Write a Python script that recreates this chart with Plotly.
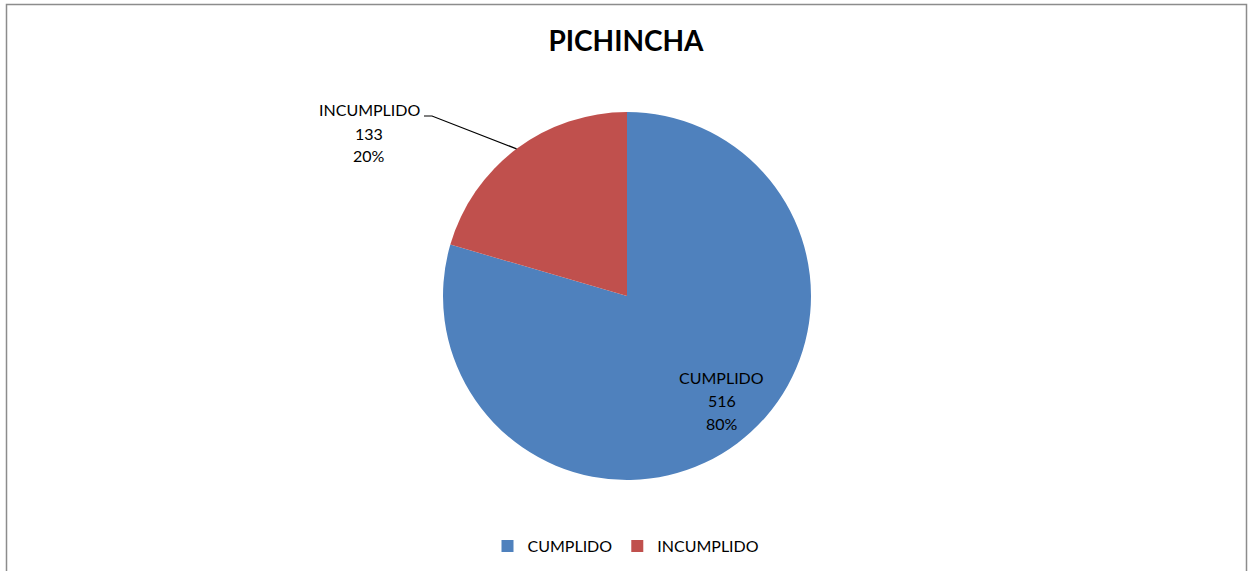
import math
import plotly.graph_objects as go

# Data
categories = ["CUMPLIDO", "INCUMPLIDO"]
values = [516, 133]
colors = ["#4F81BD", "#C0504D"]
title_text = "PICHINCHA"

W, H = 1252, 571
FONT = "Lato, 'Open Sans', sans-serif"

# Pie geometry in pixels
cx, cy, R = 627, 296, 184
LINE_GAP = 23  # spacing between label lines, px


def px_x(x):
    return x / W


def px_y(y):
    return 1 - y / H


fig = go.Figure()
fig.add_trace(go.Pie(
    labels=categories,
    values=values,
    marker=dict(colors=colors, line=dict(color="white", width=0)),
    sort=False,
    direction="clockwise",
    rotation=0,
    textinfo="none",
    hoverinfo="label+value+percent",
    domain=dict(x=[px_x(cx - R), px_x(cx + R)], y=[px_y(cy + R), px_y(cy - R)]),
    showlegend=True,
))

total = sum(values)
annotations = []
shapes = []

# Mid-angles of each slice, measured clockwise from 12 o'clock
start = 0.0
mids = []
for v in values:
    frac = v / total
    mids.append((start + frac / 2) * 2 * math.pi)
    start += frac

pcts = [round(v / total * 100) for v in values]


def add_label(x, y_mid, lines):
    """Stack label lines centred on (x, y_mid) in pixel coordinates."""
    n = len(lines)
    for i, line in enumerate(lines):
        y = y_mid + (i - (n - 1) / 2) * LINE_GAP
        annotations.append(dict(
            x=px_x(x), y=px_y(y), xref="paper", yref="paper",
            text=line, showarrow=False,
            font=dict(family=FONT, size=16, color="#000"),
            xanchor="center", yanchor="middle",
        ))


# CUMPLIDO label inside its slice
a = mids[0]
r_in = 0.72 * R
lx = cx + r_in * math.sin(a) + 15
ly = cy - r_in * math.cos(a) - 1
add_label(lx, ly, [categories[0], str(values[0]), f"{pcts[0]}%"])

# INCUMPLIDO label outside with a leader line
a = mids[1]
ex = cx + R * math.sin(a)
ey = cy - R * math.cos(a)
elbow_x, elbow_y = 432, 116
add_label(369, 133, [categories[1], str(values[1]), f"{pcts[1]}%"])
shapes.append(dict(
    type="path", xref="paper", yref="paper",
    path=f"M {px_x(424)} {px_y(elbow_y)} L {px_x(elbow_x)} {px_y(elbow_y)} L {px_x(ex)} {px_y(ey)}",
    line=dict(color="#000", width=1.2),
))

# Chart frame
shapes.append(dict(
    type="rect", xref="paper", yref="paper",
    x0=px_x(6.5), x1=px_x(1246.5), y0=-0.05, y1=px_y(4.5),
    line=dict(color="#8c8c8c", width=1.5),
))

fig.update_layout(
    width=W, height=H,
    margin=dict(l=0, r=0, t=0, b=0),
    paper_bgcolor="white",
    plot_bgcolor="white",
    title=dict(text=f"<b>{title_text}</b>", x=0.5, xanchor="center",
               y=px_y(41), yanchor="middle",
               font=dict(family=FONT, size=28, color="#000")),
    legend=dict(orientation="h", x=0.5, xanchor="center", y=px_y(546), yanchor="middle",
                font=dict(family=FONT, size=16, color="#000"), itemwidth=30,
                traceorder="normal"),
    annotations=annotations,
    shapes=shapes,
)

fig.write_html("out.html")
